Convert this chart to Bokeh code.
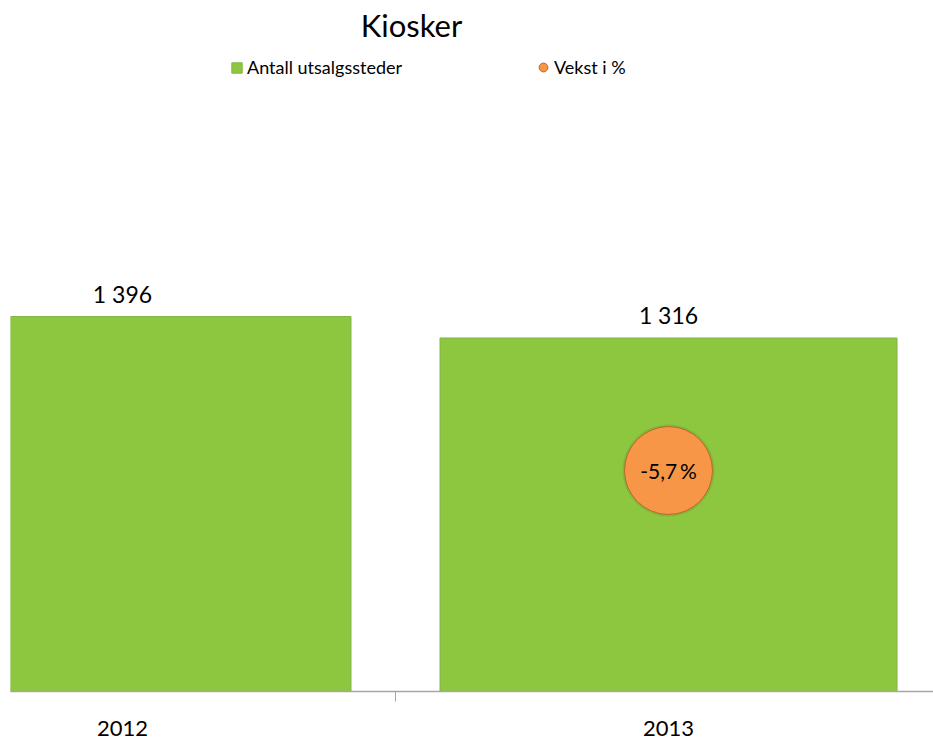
from bokeh.plotting import figure
from bokeh.models import (ColumnDataSource, Range1d, FixedTicker, Label, Legend, LegendItem,
                          LinearAxis)
from bokeh.embed import file_html
from bokeh.resources import INLINE
from bokeh.core.properties import value

# ---- data ----
years = ["2012", "2013"]
outlets = [1396, 1316]
growth_years = ["2013"]
growth = [-5.7]

FONT = "Lato"
GREEN = "#8DC63F"
ORANGE = "#F79646"

xpos = list(range(len(years)))
bar_labels = [f"{v:,}".replace(",", " ") for v in outlets]
src = ColumnDataSource(dict(x=xpos, top=outlets, lab=bar_labels))

gx = [years.index(y) for y in growth_years]
glabels = [f"{g:.1f}\u2009%".replace(".", ",") for g in growth]
gsrc = ColumnDataSource(dict(x=gx, y=growth, lab=glabels))

p = figure(width=933, height=747, output_backend="svg", toolbar_location=None,
           x_range=Range1d(-0.2051, 1.4853), y_range=Range1d(0, 2542.6),
           min_border_left=10, min_border_right=0, min_border_top=8, min_border_bottom=56,
           x_axis_location=None, y_axis_location=None)
p.extra_y_ranges = {"growth": Range1d(-10, 3.29)}
p.outline_line_color = None
p.grid.visible = False
p.background_fill_color = "white"

bars = p.vbar(x="x", top="top", width=0.837, bottom=0, source=src,
              fill_color=GREEN, line_color="#86b446", line_width=1)
p.text(x="x", y="top", text="lab", source=src, text_align="center", text_baseline="bottom",
       y_offset=-9, text_font=value(FONT), text_font_size="23px", text_color="#000000")

# soft shadow around growth bubble
p.scatter(x="x", y="y", source=gsrc, y_range_name="growth", size=92,
          fill_color="#5f8a2a", fill_alpha=0.25, line_color=None)
dots = p.scatter(x="x", y="y", source=gsrc, y_range_name="growth", size=88,
                 fill_color=ORANGE, line_color="#b8682c", line_width=1)
p.text(x="x", y="y", text="lab", source=gsrc, y_range_name="growth",
       text_align="center", text_baseline="middle",
       text_font=value(FONT), text_font_size="21px", text_color="#000000")

# x axis
xaxis = LinearAxis(ticker=FixedTicker(ticks=xpos, minor_ticks=[0.5]))
xaxis.major_label_overrides = {i: y for i, y in enumerate(years)}
xaxis.major_tick_out = 0
xaxis.major_tick_in = 0
xaxis.minor_tick_out = 10
xaxis.minor_tick_in = 0
xaxis.minor_tick_line_color = "#a6a6a6"
xaxis.axis_line_color = "#a6a6a6"
xaxis.axis_line_width = 1.5
xaxis.major_label_standoff = 19
xaxis.major_label_text_font = FONT
xaxis.major_label_text_font_size = "22px"
xaxis.major_label_text_color = "#000000"
p.add_layout(xaxis, "below")

# title
p.add_layout(Label(x=401, y=667, x_units="screen", y_units="screen", text="Kiosker",
                   text_align="center", text_baseline="middle", text_font=FONT,
                   text_font_size="31px", text_color="#000000"))

# legends
def mk_legend(label, rend, loc, gw, standoff):
    lg = Legend(items=[LegendItem(label=label, renderers=[rend])], location=loc,
                orientation="horizontal", background_fill_alpha=0, border_line_color=None,
                padding=0, margin=0, glyph_width=gw, glyph_height=gw, label_standoff=standoff,
                label_text_font=FONT, label_text_font_size="18px", label_text_color="#000000")
    p.add_layout(lg, "center")

mk_legend("Antall utsalgssteder", bars, (220, 613), 13, 4)
mk_legend("Vekst i %", dots, (522, 613), 22, 0)

open("out.html", "w").write(file_html(p, INLINE))
